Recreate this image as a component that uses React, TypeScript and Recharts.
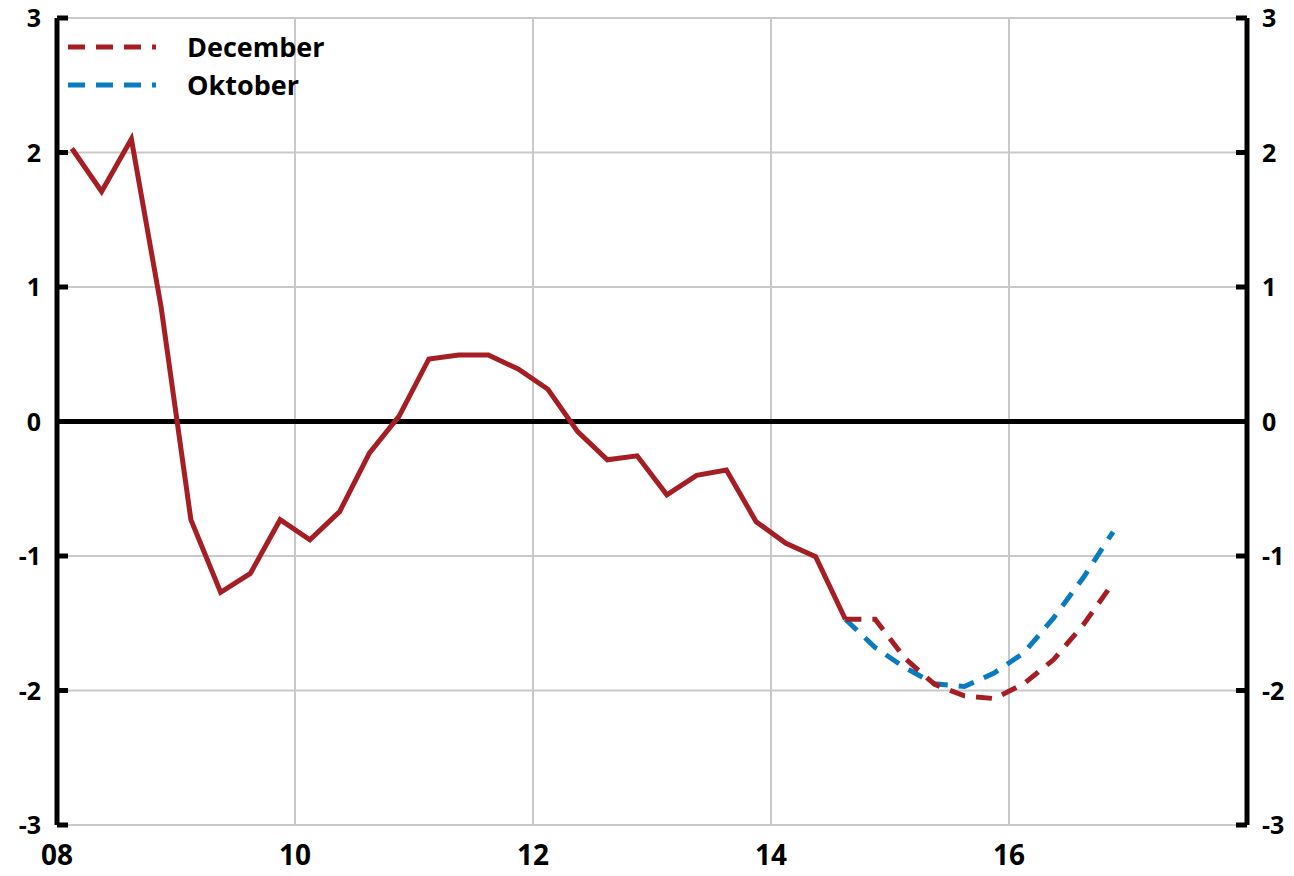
import React from "react";
import {
  LineChart,
  Line,
  XAxis,
  YAxis,
  CartesianGrid,
  ReferenceLine,
  Legend
} from "recharts";

const FONT = "'Open Sans', 'DejaVu Sans', sans-serif";
const RED = "#a51e24";
const BLUE = "#0b7bc0";

// quarters 2008Q1 .. 2016Q4
const years = [2008, 2009, 2010, 2011, 2012, 2013, 2014, 2015, 2016];
const quarters = [1, 2, 3, 4];

// outcome 2008Q1 .. 2014Q3
const actual = [
  2.03, 1.71, 2.1, 0.85,
  -0.73, -1.27, -1.13, -0.73,
  -0.88, -0.67, -0.235, 0.04,
  0.465, 0.495, 0.495, 0.39,
  0.24, -0.075, -0.285, -0.255,
  -0.545, -0.4, -0.36, -0.745,
  -0.905, -1.005, -1.47
];

// forecasts 2014Q3 .. 2016Q4
const december = [-1.47, -1.47, -1.76, -1.955, -2.04, -2.06, -1.95, -1.77, -1.51, -1.2];
const oktober = [-1.47, -1.68, -1.83, -1.95, -1.97, -1.87, -1.72, -1.46, -1.16, -0.82];

const xTicks = [2008, 2010, 2012, 2014, 2016];
const yTicks = [-3, -2, -1, 0, 1, 2, 3];

const forecastStart = 26;

const periods = years.flatMap((y) => quarters.map((q) => ({ y, q })));
const data = periods.map((p, i) => ({
  t: p.y + (p.q - 0.5) / 4,
  actual: i < actual.length ? actual[i] : null,
  december: i >= forecastStart ? december[i - forecastStart] : null,
  oktober: i >= forecastStart ? oktober[i - forecastStart] : null
}));

const LeftTick = (props: any) => {
  const { x, y, payload } = props;
  const ax = x + 16;
  return (
    <g>
      <line x1={ax} x2={ax + 11} y1={y} y2={y} stroke="#000" strokeWidth={5} />
      <text x={x} y={y} dy={9} textAnchor="end" fontFamily={FONT} fontWeight={700} fontSize={25} fill="#000">
        {payload.value}
      </text>
    </g>
  );
};

const RightTick = (props: any) => {
  const { x, y, payload } = props;
  const ax = x - 15;
  return (
    <g>
      <line x1={ax - 11} x2={ax} y1={y} y2={y} stroke="#000" strokeWidth={5} />
      <text x={x} y={y} dy={9} textAnchor="start" fontFamily={FONT} fontWeight={700} fontSize={25} fill="#000">
        {payload.value}
      </text>
    </g>
  );
};

const renderLegend = (props: any) => {
  const order = ["December", "Oktober"];
  const items = (props.payload || [])
    .filter((e: any) => order.includes(e.value))
    .sort((a: any, b: any) => order.indexOf(a.value) - order.indexOf(b.value));
  return (
    <div style={{ fontFamily: FONT, fontWeight: 700, fontSize: 27, color: "#000" }}>
      {items.map((e: any) => (
        <div key={e.value} style={{ display: "flex", alignItems: "center", height: 38 }}>
          <svg width={88} height={10}>
            <line x1={0} y1={5} x2={88} y2={5} stroke={e.color} strokeWidth={5} strokeDasharray="17 11" />
          </svg>
          <span style={{ marginLeft: 31, lineHeight: "38px" }}>{e.value}</span>
        </div>
      ))}
    </div>
  );
};

export default function App() {
  return (
    <LineChart
      width={1286}
      height={876}
      data={data}
      style={{ marginTop: -8 }}
      margin={{ top: 18, right: 0, left: 0, bottom: 8 }}
    >
      <CartesianGrid yAxisId="left" stroke="#c9c9c9" strokeWidth={2} />
      <XAxis
        dataKey="t"
        type="number"
        domain={[2008, 2018]}
        ticks={xTicks}
        tickFormatter={(v: number) => String(v).slice(2)}
        axisLine={false}
        tickLine={false}
        tickSize={0}
        tickMargin={20}
        height={43}
        tick={{ fontFamily: FONT, fontWeight: 700, fontSize: 28, fill: "#000" }}
      />
      <YAxis
        yAxisId="left"
        domain={[-3, 3]}
        ticks={yTicks}
        width={49}
        axisLine={{ stroke: "#000", strokeWidth: 5 }}
        tickLine={false}
        tickSize={0}
        tickMargin={16}
        tick={<LeftTick />}
      />
      <YAxis
        yAxisId="right"
        orientation="right"
        domain={[-3, 3]}
        ticks={yTicks}
        width={47}
        axisLine={{ stroke: "#000", strokeWidth: 5 }}
        tickLine={false}
        tickSize={0}
        tickMargin={15}
        tick={<RightTick />}
      />
      <ReferenceLine yAxisId="left" y={0} stroke="#000" strokeWidth={5} />
      <Legend
        content={renderLegend}
        layout="vertical"
        align="center"
        verticalAlign="middle"
        wrapperStyle={{ left: 60, top: 28, width: 320 }}
      />
      <Line
        yAxisId="left"
        dataKey="actual"
        name="Utfall"
        type="linear"
        stroke={RED}
        strokeWidth={5}
        dot={false}
        legendType="none"
        isAnimationActive={false}
      />
      <Line
        yAxisId="left"
        dataKey="oktober"
        name="Oktober"
        type="linear"
        stroke={BLUE}
        strokeWidth={5}
        strokeDasharray="16 11"
        dot={false}
        isAnimationActive={false}
      />
      <Line
        yAxisId="right"
        dataKey="december"
        name="December"
        type="linear"
        stroke={RED}
        strokeWidth={5}
        strokeDasharray="16 11"
        dot={false}
        isAnimationActive={false}
      />
    </LineChart>
  );
}
